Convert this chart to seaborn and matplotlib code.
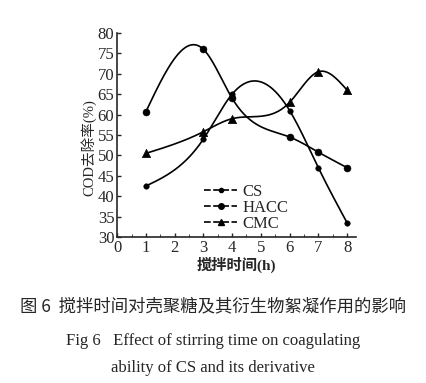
import seaborn as sns
import matplotlib.pyplot as plt
import numpy as np
from matplotlib.lines import Line2D

# stirring time (h) and COD removal rate (%) for the three flocculants
hours = [1, 3, 4, 6, 7, 8]
cs = [42.5, 54.0, 65.0, 61.0, 47.0, 33.5]
hacc = [60.7, 76.0, 64.0, 54.5, 50.8, 47.0]
cmc = [50.5, 55.8, 59.0, 63.0, 70.5, 66.0]

x_ticks = [0, 1, 2, 3, 4, 5, 6, 7, 8]
y_ticks = [30, 35, 40, 45, 50, 55, 60, 65, 70, 75, 80]


def smooth(x, y, n=200):
    # natural cubic spline through the measured points (only for the drawn curve)
    x = np.asarray(x, float)
    y = np.asarray(y, float)
    k = len(x)
    h = np.diff(x)
    A = np.zeros((k, k))
    b = np.zeros(k)
    A[0, 0] = A[-1, -1] = 1
    for i in range(1, k - 1):
        A[i, i - 1] = h[i - 1]
        A[i, i] = 2 * (h[i - 1] + h[i])
        A[i, i + 1] = h[i]
        b[i] = 6 * ((y[i + 1] - y[i]) / h[i] - (y[i] - y[i - 1]) / h[i - 1])
    m = np.linalg.solve(A, b)
    xs = np.linspace(x[0], x[-1], n)
    idx = np.clip(np.searchsorted(x, xs) - 1, 0, k - 2)
    x0, x1 = x[idx], x[idx + 1]
    hh = x1 - x0
    t0, t1 = x1 - xs, xs - x0
    ys = (m[idx] * t0 ** 3 + m[idx + 1] * t1 ** 3) / (6 * hh) \
        + (y[idx] / hh - m[idx] * hh / 6) * t0 \
        + (y[idx + 1] / hh - m[idx + 1] * hh / 6) * t1
    return xs, ys


sns.set_style("ticks")
plt.rcParams['font.family'] = ['Liberation Serif', 'Noto Sans CJK SC', 'DejaVu Sans']

fig = plt.figure(figsize=(4.26, 3.83), dpi=100)
ax = fig.add_axes([0.275, 0.381, 0.56, 0.533])

series = [("CS", cs, "o", 4), ("HACC", hacc, "o", 5), ("CMC", cmc, "^", 6)]
handles = []
for name, vals, mk, ms in series:
    xs, ys = smooth(hours, vals)
    sns.lineplot(x=xs, y=ys, ax=ax, color="black", linewidth=1.2)
    sns.scatterplot(x=hours, y=vals, ax=ax, color="black", marker=mk,
                    s=ms ** 2, edgecolor="black", zorder=3)
    handles.append(Line2D([], [], color="black", linestyle=(0, (4, 1.5)),
                          linewidth=1.2, marker=mk, markersize=ms - 1))

ax.set_xlim(0, 8.3)
ax.set_ylim(30, 80)
ax.set_xticks(x_ticks)
ax.set_yticks(y_ticks)
ax.set_xticks(np.arange(0.5, 8.3, 1), minor=True)
ax.tick_params(direction="in", labelsize=12, length=3, width=1, pad=2)
ax.tick_params(which="minor", direction="in", length=2)
for s in ["top", "right"]:
    ax.spines[s].set_visible(False)
for s in ["left", "bottom"]:
    ax.spines[s].set_linewidth(1.2)

ax.set_ylabel("COD去除率(%)", fontsize=10.5)
ax.yaxis.set_label_coords(-0.085, 0.44)
ax.set_xlabel("搅拌时间(h)", fontsize=11, fontweight="bold", labelpad=1)

ax.legend(handles, ["CS", "HACC", "CMC"], loc="lower right",
          bbox_to_anchor=(0.78, -0.05), frameon=False, fontsize=12,
          handlelength=2.0, handletextpad=0.3, labelspacing=0.0)

fig.text(0.5, 0.20, "图 6  搅拌时间对壳聚糖及其衍生物絮凝作用的影响",
         ha="center", va="center", fontsize=12.5,
         family=['Noto Sans CJK SC', 'DejaVu Sans'])
fig.text(0.5, 0.11, "Fig 6   Effect of stirring time on coagulating",
         ha="center", va="center", fontsize=12)
fig.text(0.5, 0.04, "ability of CS and its derivative",
         ha="center", va="center", fontsize=12)

fig.savefig("out.png", dpi=100)
